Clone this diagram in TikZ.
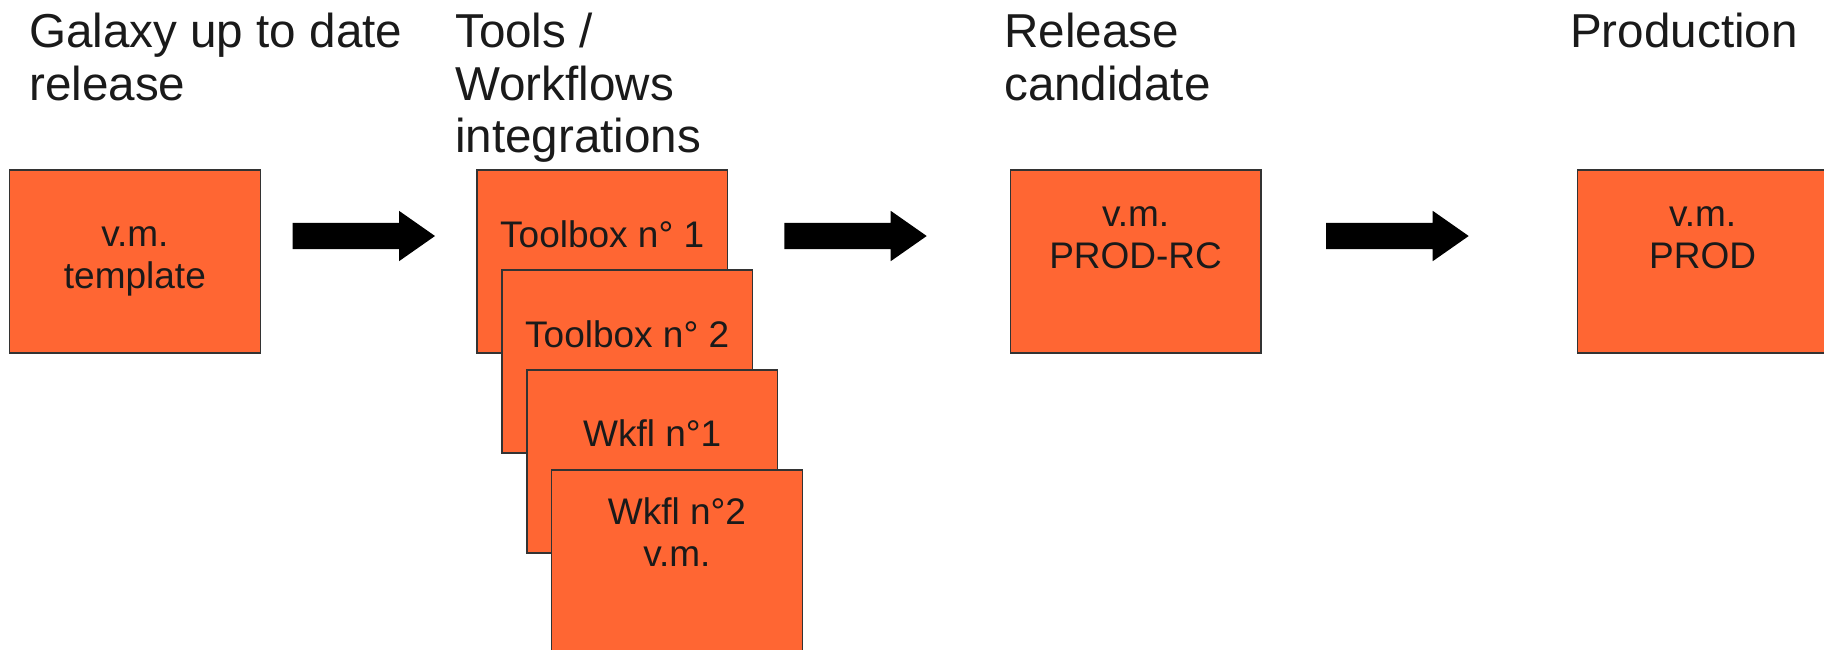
\documentclass[tikz,border=0pt]{standalone}
\usepackage{fontspec}
\setmainfont{Liberation Sans}
\usetikzlibrary{calc}
\definecolor{boxorange}{HTML}{FF6633}
\definecolor{boxline}{HTML}{333333}
\definecolor{txt}{HTML}{1A1A1A}
\tikzset{
  vmbox/.style={draw=boxline, line width=1.3pt, fill=boxorange, minimum width=250.5pt, minimum height=183pt, inner sep=0pt, anchor=north west},
  boxtext/.style={font=\fontsize{37}{41.8}\selectfont, text=txt, align=center, inner sep=0pt, anchor=base},
  titletext/.style={font=\fontsize{47.6}{52.6}\selectfont, text=txt, align=left, inner sep=0pt, anchor=base west},
  arrowfill/.style={fill=black},
}
\newcommand{\blockarr}[2]{%
  \fill[arrowfill] let \p1=(#1), \p2=(#2) in
    (\x1,\y1+13.2pt) -- (\x2-36pt,\y1+13.2pt) -- (\x2-36pt,\y1+25.2pt) -- (\x2,\y1)
    -- (\x2-36pt,\y1-25.2pt) -- (\x2-36pt,\y1-13.2pt) -- (\x1,\y1-13.2pt) -- cycle;}
\begin{document}
\begin{tikzpicture}[x=1pt,y=-1pt]
\useasboundingbox (0,0) rectangle (1824,649);
\clip (0,0) rectangle (1824,649);
% titles (base anchor = baseline of the last line)
\node[titletext] (t1) at (29,100.3) {Galaxy up to date\\release};
\node[titletext] (t2) at (455,152.9) {Tools /\\Workflows\\integrations};
\node[titletext] (t3) at (1004,100.3) {Release\\candidate};
\node[titletext] (t4) at (1570,47.7) {Production};
% template
\node[vmbox] (tpl) at (9,169.3) {};
\node[boxtext] (tplt) at ($(tpl.north)+(0,118.9)$) {v.m.\\template};
% stack
\node[vmbox] (tb1) at (476.3,169.3) {};
\node[boxtext] (tb1t) at ($(tb1.north)+(0,78.4)$) {Toolbox n° 1};
\node[vmbox] (tb2) at (501.3,269.3) {};
\node[boxtext] (tb2t) at ($(tb2.north)+(0,78.4)$) {Toolbox n° 2};
\node[vmbox] (wk1) at (526.3,369.3) {};
\node[boxtext] (wk1t) at ($(wk1.north)+(0,77.4)$) {Wkfl n°1};
\node[vmbox] (wk2) at (551,469.3) {};
\node[boxtext] (wk2t) at ($(wk2.north)+(0,97.4)$) {Wkfl n°2\\v.m.};
% release candidate
\node[vmbox] (rc) at (1009.7,169.3) {};
\node[boxtext] (rct) at ($(rc.north)+(0,99)$) {v.m.\\PROD-RC};
% production
\node[vmbox] (prod) at (1576.7,169.3) {};
\node[boxtext] (prodt) at ($(prod.north)+(0,99)$) {v.m.\\PROD};
% arrows
\coordinate (a1s) at (292.7,236); \coordinate (a1e) at (435,236);
\coordinate (a2s) at (784.3,236); \coordinate (a2e) at (926.7,236);
\coordinate (a3s) at (1326,236); \coordinate (a3e) at (1468.7,236);
\blockarr{a1s}{a1e}
\blockarr{a2s}{a2e}
\blockarr{a3s}{a3e}
\end{tikzpicture}
\end{document}
